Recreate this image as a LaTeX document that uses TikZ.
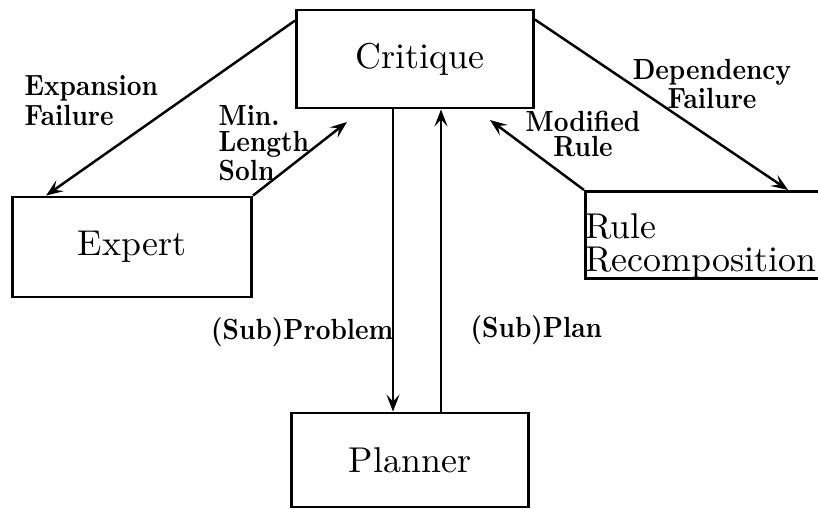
\documentclass[tikz,border=0pt]{standalone}
\usepackage{amsmath}
\usepackage{fontspec}
\usepackage{tikz}
\usepackage{color,xcolor}
\usetikzlibrary{arrows.meta}
\newfontfamily\lblfont[FakeStretch=0.88]{lmroman10-bold.otf}

\tikzset{
  box/.style={draw,line width=0.8pt,font=\fontsize{10.2}{9.5}\selectfont},
  lbl/.style={font=\lblfont\fontsize{8.3}{7.2}\selectfont,inner sep=0pt},
  flow/.style={-{Stealth[length=1.7mm,width=1.3mm,inset=0.7mm]},line width=0.7pt}
}

\begin{document}
\begin{tikzpicture}[x=0.01cm,y=-0.01cm]
            \useasboundingbox (0,0) rectangle (818,508);
            \node[box,minimum width=2.37cm,minimum height=0.98cm] (crit) at (415,59) {\hspace{0.1cm}Critique};
            \node[box,minimum width=2.39cm,minimum height=1cm] (exp) at (132,247) {Expert};
            \node[box,minimum width=2.37cm,minimum height=0.94cm] (plan) at (410,460) {Planner};
            \node[box,anchor=north west,inner xsep=0pt,inner ysep=0pt,text width=2.6cm,align=left,minimum height=0.87cm,
                  font=\fontsize{10.2}{0.33cm}\selectfont] (rule) at (584,190) {\rule{0pt}{0.47cm}Rule\\Recomposition};
            \coordinate (mlend) at (347,122);
            \coordinate (modend) at (490,120);
            \draw[flow] ([yshift=-0.12cm]crit.north west) -- ([xshift=0.35cm]exp.north west);
            \draw[flow] (exp.north east) -- (mlend);
            \draw[flow] ([xshift=-0.22cm]crit.south) -- ([xshift=-0.22cm]crit.south |- plan.north);
            \draw[flow] ([xshift=0.26cm]crit.south |- plan.north) -- ([xshift=0.26cm]crit.south);
            \draw[flow] (rule.north west) -- (modend);
            \draw[flow] ([yshift=-0.11cm]crit.north east) -- ([xshift=2.04cm]rule.north west);
            \node[lbl,anchor=north west,align=left] (expl) at (24,75) {Expansion\\Failure};
            \node[lbl,anchor=north west,align=left] (minl) at (218,105) {Min.\\Length\\Soln};
            \node[lbl,align=center] (depl) at (712,84) {Dependency\\Failure};
            \node[lbl,align=center] (modl) at (583,134) {Modified\\Rule};
            \node[lbl,anchor=east] (subprob) at (394,332) {(Sub)Problem};
            \node[lbl,anchor=west] (subplan) at (470,330) {(Sub)Plan};
          \end{tikzpicture}
\end{document}
